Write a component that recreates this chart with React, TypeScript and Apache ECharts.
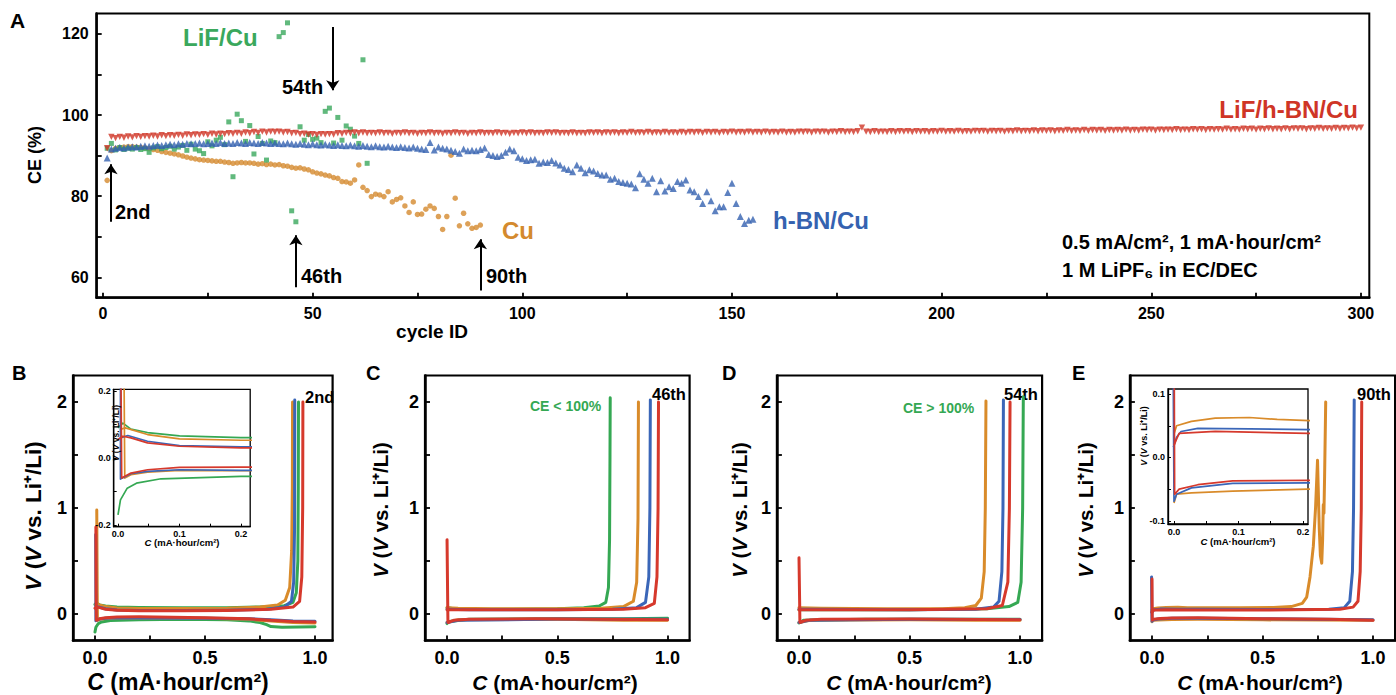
import React, { useEffect, useRef } from 'react';
import * as echarts from 'echarts';

const FONT = '"Liberation Sans", Arial, Helvetica, sans-serif';
const GREEN = '#35a853';
const ORANGE = '#d98b2a';
const BLUE = '#3a66b8';
const RED = '#d6392c';
const GREEN_PT = '#3aa85c';
const ORANGE_PT = '#d48a2e';
const BLUE_PT = '#3562b0';
const RED_PT = '#cf3526';

// ---------- Panel A : coulombic efficiency vs cycle ----------
const redCE = [
  91.8, 94.6, 94.3, 94.6, 94.4, 94.7, 94.5, 94.8, 94.6, 94.8,
  94.7, 94.9, 94.7, 95.0, 94.8, 95.0, 94.9, 95.1, 94.9, 95.2,
  95.0, 95.2, 95.1, 95.3, 95.1, 95.4, 95.2, 95.4, 95.3, 95.5,
  95.4, 95.6, 95.4, 95.7, 95.5, 95.8, 95.6, 95.9, 95.7, 95.9,
  95.8, 95.9, 95.7, 95.8, 95.5, 95.6, 95.3, 95.4, 95.2, 95.3,
  95.1, 95.3, 95.2, 95.3, 95.2, 95.5, 95.4, 95.6, 95.5, 95.7,
  95.5, 95.7, 95.5, 95.6, 95.5, 95.7, 95.5, 95.6, 95.4, 95.6,
  95.5, 95.7, 95.5, 95.6, 95.4, 95.6, 95.5, 95.7, 95.5, 95.6,
  95.4, 95.6, 95.5, 95.7, 95.5, 95.6, 95.4, 95.6, 95.5, 95.7,
  95.5, 95.6, 95.5, 95.7, 95.5, 95.6, 95.4, 95.6, 95.5, 95.7,
  95.5, 95.7, 95.5, 95.6, 95.5, 95.7, 95.6, 95.7, 95.5, 95.6,
  95.5, 95.7, 95.5, 95.6, 95.5, 95.7, 95.6, 95.7, 95.5, 95.7,
  95.6, 95.7, 95.5, 95.7, 95.6, 95.8, 95.6, 95.7, 95.6, 95.8,
  95.6, 95.7, 95.6, 95.8, 95.6, 95.7, 95.6, 95.8, 95.6, 95.8,
  95.7, 95.8, 95.6, 95.8, 95.7, 95.8, 95.6, 95.8, 95.7, 95.9,
  95.7, 95.8, 95.7, 95.9, 95.7, 95.8, 95.7, 95.9, 95.7, 95.8,
  95.7, 95.9, 95.7, 95.8, 95.7, 95.9, 95.8, 95.9, 95.7, 95.9,
  95.8, 95.9, 95.7, 95.9, 95.8, 96.0, 95.8, 95.9, 95.8, 96.0,
  96.9, 95.9, 95.8, 96.0, 95.8, 95.9, 95.8, 96.0, 95.8, 96.0,
  95.9, 96.0, 95.8, 96.0, 95.9, 96.0, 95.8, 96.0, 95.9, 96.1,
  95.9, 96.0, 95.9, 96.1, 95.9, 96.0, 95.9, 96.1, 96.0, 96.1,
  95.9, 96.1, 96.0, 96.1, 95.9, 96.1, 96.0, 96.2, 96.0, 96.1,
  96.0, 96.2, 96.0, 96.2, 96.1, 96.2, 96.0, 96.2, 96.1, 96.3,
  96.1, 96.2, 96.1, 96.3, 96.1, 96.3, 96.2, 96.3, 96.1, 96.3,
  96.2, 96.3, 96.2, 96.4, 96.2, 96.3, 96.2, 96.4, 96.3, 96.4,
  96.2, 96.4, 96.3, 96.4, 96.3, 96.5, 96.3, 96.4, 96.3, 96.5,
  96.4, 96.5, 96.3, 96.5, 96.4, 96.5, 96.4, 96.6, 96.4, 96.5,
  96.4, 96.6, 96.5, 96.6, 96.4, 96.6, 96.5, 96.7, 96.5, 96.6,
  96.5, 96.7, 96.5, 96.7, 96.6, 96.7, 96.5, 96.7, 96.6, 96.8,
  96.6, 96.7, 96.6, 96.8, 96.6, 96.8, 96.7, 96.9, 96.7, 96.9,
];

const blueCE = [
  89.4, 91.6, 91.8, 92.0, 91.9, 92.1, 92.2, 92.1, 92.3, 92.4,
  92.3, 92.5, 92.6, 92.5, 92.7, 92.8, 92.7, 92.9, 92.8, 93.0,
  92.9, 93.0, 93.1, 92.9, 93.0, 93.1, 93.0, 93.2, 93.0, 93.1,
  93.0, 93.2, 93.1, 93.0, 93.2, 93.1, 93.0, 93.2, 93.1, 93.0,
  93.1, 93.0, 92.9, 93.1, 92.9, 92.8, 93.0, 92.8, 92.7, 92.9,
  92.7, 92.6, 92.8, 92.6, 92.5, 92.7, 92.5, 92.4, 92.6, 92.4,
  92.3, 92.5, 92.3, 92.2, 92.4, 92.2, 92.1, 92.3, 92.1, 92.0,
  92.2, 92.0, 91.9, 92.1, 91.8, 91.6, 91.5, 93.2, 91.4, 92.1,
  91.8, 91.6, 91.3, 91.0, 90.6, 91.6, 91.2, 91.3, 91.2, 91.5,
  91.9, 90.3, 90.0, 89.8, 90.0, 90.8, 91.6, 91.2, 89.6, 89.2,
  88.8, 89.0, 89.1, 88.1, 88.4, 88.3, 88.8, 88.2, 87.7, 86.9,
  86.6, 86.0, 87.7, 86.9, 85.8, 86.5, 86.2, 85.6, 85.2, 85.2,
  84.2, 84.4, 83.6, 83.4, 83.2, 83.0, 82.1, 85.5, 84.2, 83.2,
  84.4, 81.1, 83.8, 81.3, 82.3, 81.9, 83.6, 83.2, 84.0, 81.5,
  81.1, 79.9, 78.2, 81.1, 78.9, 76.4, 77.4, 77.4, 80.9, 83.2,
  78.2, 75.0, 73.3, 74.1, 74.3,
];

const orangeCE = [
  83.9, 91.2, 91.8, 92.0, 92.1, 92.2, 92.2, 92.1, 92.0, 91.9,
  91.7, 91.5, 91.3, 91.0, 90.8, 90.6, 90.4, 90.2, 89.9, 89.6,
  89.4, 89.2, 89.0, 88.9, 88.8, 88.7, 88.6, 88.6, 88.4, 88.3,
  88.1, 88.2, 88.3, 88.2, 88.2, 88.1, 87.9, 88.0, 87.8, 87.9,
  87.7, 87.8, 87.5, 87.4, 87.1, 86.9, 87.0, 86.7, 86.5, 86.0,
  85.7, 85.5, 85.2, 85.0, 84.6, 84.4, 83.6, 83.5, 83.2, 84.0,
  87.7, 82.2, 81.4, 79.9, 80.5, 80.3, 79.9, 81.1, 78.6, 79.2,
  79.6, 77.6, 76.0, 78.6, 75.5, 75.6, 76.8, 77.6, 77.0, 75.0,
  71.8, 75.0, 90.1, 79.5, 72.7, 75.8, 73.2, 72.1, 72.3, 72.9,
];

const greenCE = [
  91.8, 93.0, 91.4, 92.0, 91.5, 91.8, 91.6, 92.0, 91.5, 91.7,
  90.8, 91.9, 92.2, 91.7, 92.0, 92.3, 91.6, 92.1, 92.5, 91.3,
  92.8, 91.6, 91.2, 90.5, 93.4, 92.4, 93.8, 94.5, 92.7, 98.3,
  84.8, 100.2, 98.6, 93.5, 97.4, 90.4, 94.7, 93.0, 88.9, 93.6,
  93.2, 119.3, 120.3, 122.7, 76.4, 73.7, 97.1, 93.8, 95.2, 94.0,
  94.3, 93.2, 100.9, 101.7, 93.1, 99.4, 93.8, 97.3, 96.5, 94.8,
  93.0, 113.6, 88.1,
];

const aXTicks = [0, 25, 50, 75, 100, 125, 150, 175, 200, 225, 250, 275, 300];
const aXLabels = [0, 50, 100, 150, 200, 250, 300];
const aYTicks = [60, 70, 80, 90, 100, 110, 120];
const aYLabels = [60, 80, 100, 120];

// arrows: [cycle, from CE, to CE]
const arrows = [
  [1.9, 73.7, 87.9],
  [46, 57.6, 70.4],
  [90, 56.8, 69.4],
  [54.8, 121.7, 106.1],
];

// ---------- Panels B-E : voltage profiles [C, V] ----------
// B : 2nd cycle
const bGreenPlate = [[0, -0.17], [0.004, -0.125], [0.015, -0.09], [0.03, -0.075], [0.07, -0.062], [0.2, -0.055], [0.4, -0.05], [0.6, -0.055], [0.7, -0.065], [0.75, -0.08], [0.78, -0.1], [0.8, -0.118], [0.85, -0.125], [1.0, -0.12]];
const bGreenStrip = [[0, 0.09], [0.008, 0.104], [0.021, 0.086], [0.048, 0.076], [0.1, 0.066], [0.2, 0.061], [0.4, 0.058], [0.6, 0.06], [0.75, 0.066], [0.86, 0.078], [0.9, 0.11], [0.915, 0.2], [0.922, 0.5], [0.924, 1.2], [0.925, 2.0]];
const bOrangePlate = [[0.008, 0.98], [0.01, 0.2], [0.011, -0.06], [0.021, -0.05], [0.048, -0.042], [0.1, -0.037], [0.2, -0.038], [0.5, -0.04], [0.7, -0.05], [0.8, -0.065], [0.9, -0.08], [1.0, -0.085]];
const bOrangeStrip = [[0.003, 0.085], [0.012, 0.09], [0.048, 0.07], [0.1, 0.057], [0.2, 0.053], [0.4, 0.052], [0.6, 0.055], [0.75, 0.065], [0.83, 0.085], [0.865, 0.13], [0.885, 0.25], [0.894, 0.6], [0.897, 1.2], [0.898, 2.0]];
const bBluePlate = [[0.003, 0.75], [0.004, 0.2], [0.004, -0.063], [0.021, -0.047], [0.048, -0.04], [0.1, -0.035], [0.2, -0.037], [0.5, -0.04], [0.7, -0.045], [0.8, -0.055], [0.9, -0.065], [1.0, -0.068]];
const bBlueStrip = [[0.004, 0.06], [0.016, 0.067], [0.048, 0.05], [0.1, 0.037], [0.2, 0.033], [0.4, 0.032], [0.6, 0.035], [0.78, 0.045], [0.86, 0.065], [0.893, 0.12], [0.903, 0.3], [0.907, 0.8], [0.908, 2.02]];
const bRedPlate = [[0.004, 0.82], [0.005, 0.2], [0.006, -0.06], [0.021, -0.045], [0.048, -0.035], [0.1, -0.028], [0.2, -0.027], [0.5, -0.035], [0.7, -0.045], [0.8, -0.06], [0.9, -0.07], [1.0, -0.075]];
const bRedStrip = [[0, 0.055], [0.008, 0.065], [0.021, 0.06], [0.048, 0.045], [0.1, 0.035], [0.2, 0.03], [0.4, 0.03], [0.6, 0.033], [0.8, 0.045], [0.9, 0.065], [0.93, 0.12], [0.94, 0.35], [0.944, 1.0], [0.945, 2.0]];

// C : 46th cycle
const cGreenPlate = [[0, -0.09], [0.01, -0.07], [0.1, -0.05], [0.5, -0.045], [0.8, -0.045], [1.0, -0.04]];
const cGreenStrip = [[0, 0.06], [0.02, 0.055], [0.1, 0.045], [0.3, 0.045], [0.5, 0.05], [0.62, 0.06], [0.69, 0.075], [0.72, 0.11], [0.732, 0.25], [0.737, 0.7], [0.739, 1.5], [0.74, 2.04]];
const cOrangePlate = [[0, -0.08], [0.05, -0.055], [0.5, -0.05], [0.8, -0.058], [1.0, -0.06]];
const cOrangeStrip = [[0, 0.06], [0.05, 0.055], [0.2, 0.05], [0.5, 0.05], [0.7, 0.055], [0.8, 0.07], [0.845, 0.12], [0.86, 0.3], [0.866, 0.9], [0.868, 2.0]];
const cBluePlate = [[0, -0.08], [0.05, -0.06], [0.5, -0.048], [1.0, -0.05]];
const cBlueStrip = [[0, 0.045], [0.1, 0.04], [0.5, 0.04], [0.75, 0.045], [0.86, 0.06], [0.9, 0.11], [0.915, 0.35], [0.92, 1.0], [0.922, 2.02]];
const cRedPlate = [[0, 0.7], [0.003, 0.1], [0.004, -0.08], [0.03, -0.06], [0.1, -0.05], [0.4, -0.045], [0.7, -0.05], [1.0, -0.055]];
const cRedStrip = [[0, 0.04], [0.1, 0.04], [0.5, 0.04], [0.8, 0.045], [0.9, 0.06], [0.94, 0.1], [0.952, 0.35], [0.957, 1.0], [0.959, 2.0]];

// D : 54th cycle
const dGreenPlate = [[0, -0.085], [0.02, -0.06], [0.3, -0.05], [0.7, -0.05], [1.0, -0.05]];
const dGreenStrip = [[0, 0.04], [0.5, 0.04], [0.85, 0.05], [0.95, 0.07], [0.99, 0.11], [1.005, 0.3], [1.012, 1.0], [1.015, 2.05]];
const dOrangePlate = [[0, -0.08], [0.05, -0.06], [0.5, -0.055], [0.8, -0.06], [1.0, -0.06]];
const dOrangeStrip = [[0, 0.06], [0.1, 0.055], [0.4, 0.05], [0.65, 0.05], [0.75, 0.06], [0.8, 0.08], [0.825, 0.15], [0.838, 0.4], [0.843, 1.0], [0.846, 2.01]];
const dBluePlate = [[0, -0.08], [0.05, -0.058], [0.5, -0.05], [1.0, -0.052]];
const dBlueStrip = [[0, 0.045], [0.5, 0.04], [0.8, 0.045], [0.88, 0.065], [0.905, 0.12], [0.918, 0.4], [0.923, 1.0], [0.925, 2.02]];
const dRedPlate = [[0, 0.53], [0.003, 0.1], [0.004, -0.08], [0.03, -0.06], [0.1, -0.05], [0.5, -0.048], [1.0, -0.055]];
const dRedStrip = [[0, 0.04], [0.5, 0.04], [0.85, 0.05], [0.92, 0.08], [0.945, 0.3], [0.952, 1.0], [0.955, 2.0]];

// E : 90th cycle
const eOrangePlate = [[0, -0.072], [0.004, -0.058], [0.027, -0.056], [0.091, -0.053], [0.208, -0.05], [0.5, -0.055], [1.0, -0.06]];
const eOrangeStrip = [[0, 0.037], [0.004, 0.05], [0.027, 0.057], [0.064, 0.062], [0.117, 0.063], [0.16, 0.06], [0.21, 0.058], [0.4, 0.06], [0.55, 0.062], [0.63, 0.07], [0.68, 0.1], [0.7, 0.16], [0.715, 0.35], [0.73, 0.64], [0.74, 1.0], [0.746, 1.3], [0.749, 1.45], [0.752, 1.2], [0.757, 0.8], [0.762, 0.55], [0.768, 0.48], [0.772, 0.7], [0.775, 1.03], [0.778, 0.95], [0.781, 1.3], [0.786, 2.0]];
const eBluePlate = [[-0.002, 0.35], [-0.001, 0.1], [0, -0.069], [0.004, -0.058], [0.027, -0.048], [0.091, -0.041], [0.208, -0.04], [0.5, -0.045], [1.0, -0.055]];
const eBlueStrip = [[-0.001, 0.016], [0.004, 0.032], [0.011, 0.041], [0.037, 0.046], [0.117, 0.045], [0.208, 0.044], [0.5, 0.042], [0.8, 0.045], [0.87, 0.06], [0.895, 0.12], [0.907, 0.4], [0.912, 1.0], [0.915, 2.02]];
const eRedPlate = [[0, 0.33], [0.0005, 0.1], [0.001, -0.058], [0.008, -0.05], [0.037, -0.043], [0.091, -0.037], [0.208, -0.036], [0.5, -0.045], [0.8, -0.05], [1.0, -0.06]];
const eRedStrip = [[0, 0.019], [0.004, 0.029], [0.008, 0.038], [0.064, 0.041], [0.208, 0.038], [0.5, 0.038], [0.85, 0.045], [0.91, 0.065], [0.932, 0.12], [0.942, 0.4], [0.947, 1.0], [0.949, 2.0]];

const vcTicksX = [0, 0.25, 0.5, 0.75, 1.0];
const vcLabelsX = [0, 0.5, 1.0];
const vcTicksY = [0, 0.5, 1, 1.5, 2];
const vcLabelsY = [0, 1, 2];
const insetTicksX = [0, 0.05, 0.1, 0.15, 0.2];
const insetLabelsX = [0, 0.1, 0.2];
const insetBTicksY = [-0.2, -0.1, 0, 0.1, 0.2];
const insetBLabelsY = [-0.2, 0, 0.2];
const insetETicksY = [-0.1, -0.05, 0, 0.05, 0.1];
const insetELabelsY = [-0.1, 0, 0.1];

function axis(gridIndex: number, min: number, max: number, ticks: number[], labels: number[], fmt: (v: number) => string, o: any) {
  return {
    type: 'value',
    gridIndex,
    min,
    max,
    scale: true,
    z: o.z || 0,
    axisLine: { show: true, onZero: false, lineStyle: { color: '#000', width: o.lineW } },
    axisTick: { show: true, inside: true, length: o.tickLen, customValues: ticks, lineStyle: { color: '#000', width: o.tickW } },
    axisLabel: {
      show: true,
      customValues: labels,
      formatter: (v: number) => fmt(v),
      color: '#000',
      fontFamily: FONT,
      fontWeight: 'bold',
      fontSize: o.fs,
      margin: o.margin,
    },
    splitLine: { show: false },
  };
}

function txt(text: string, x: number, y: number, size: number, color = '#000', align = 'left', weight = 'bold', rot = 0, rich?: any) {
  const el: any = {
    type: 'text',
    x,
    y,
    rotation: rot,
    silent: true,
    style: {
      text,
      fill: color,
      fontFamily: FONT,
      fontSize: size,
      fontWeight: weight,
      align,
      textAlign: align,
      verticalAlign: 'middle',
      textVerticalAlign: 'middle',
    },
  };
  if (rich) el.style.rich = rich;
  return el;
}

const App: React.FC = () => {
  const ref = useRef<HTMLDivElement>(null);

  useEffect(() => {
    if (!ref.current) return;
    const chart = echarts.init(ref.current, undefined, { renderer: 'svg' });

    const vcTop = 375.5;
    const vcH = 265;
    const grids: any[] = [
      { left: 96.7, top: 13.5, width: 1272.6, height: 284.2 }, // A
      { left: 73, top: vcTop, width: 259.6, height: vcH }, // B
      { left: 425, top: vcTop, width: 264.6, height: vcH }, // C
      { left: 776.9, top: vcTop, width: 265.2, height: vcH }, // D
      { left: 1129.9, top: vcTop, width: 265.2, height: vcH }, // E
      { left: 113.7, top: 389.3, width: 136.5, height: 137.4 }, // B inset
      { left: 1168, top: 389, width: 140, height: 135 }, // E inset
    ].map((g, i) => ({
      ...g,
      containLabel: false,
      show: true,
      borderColor: '#000',
      borderWidth: i === 0 ? 2 : i >= 5 ? 1.3 : 2.2,
      backgroundColor: i >= 5 ? '#fff' : 'transparent',
      z: i >= 5 ? 5 : 0,
    }));

    const mainO = { lineW: 2.5, tickLen: 5, tickW: 1.8, fs: 18, margin: 8 };
    const aO = { lineW: 2.5, tickLen: 5, tickW: 1.8, fs: 16, margin: 8 };
    const insO = { lineW: 1.3, tickLen: 3, tickW: 1, fs: 9, margin: 3, z: 10 };
    const f1 = (v: number) => v.toFixed(1);
    const f0 = (v: number) => String(Math.round(v));

    const xAxis: any[] = [
      axis(0, -1.5, 302, aXTicks, aXLabels, f0, aO),
      axis(1, -0.1, 1.08, vcTicksX, vcLabelsX, f1, mainO),
      axis(2, -0.1, 1.1, vcTicksX, vcLabelsX, f1, mainO),
      axis(3, -0.1, 1.1, vcTicksX, vcLabelsX, f1, mainO),
      axis(4, -0.1, 1.1, vcTicksX, vcLabelsX, f1, mainO),
      axis(5, -0.007, 0.215, insetTicksX, insetLabelsX, f1, insO),
      axis(6, -0.0093, 0.2078, insetTicksX, insetLabelsX, f1, insO),
    ];
    const yAxis: any[] = [
      axis(0, 55, 125, aYTicks, aYLabels, f0, aO),
      axis(1, -0.25, 2.25, vcTicksY, vcLabelsY, f0, { ...mainO, margin: 6 }),
      axis(2, -0.25, 2.25, vcTicksY, vcLabelsY, f0, { ...mainO, margin: 6 }),
      axis(3, -0.25, 2.25, vcTicksY, vcLabelsY, f0, { ...mainO, margin: 6 }),
      axis(4, -0.25, 2.25, vcTicksY, vcLabelsY, f0, { ...mainO, margin: 6 }),
      axis(5, -0.205, 0.205, insetBTicksY, insetBLabelsY, f1, insO),
      axis(6, -0.105, 0.108, insetETicksY, insetELabelsY, f1, insO),
    ];

    const series: any[] = [];
    const toPts = (vals: number[]) => vals.map((v, i) => [i + 1, v]);
    series.push({
      type: 'scatter', xAxisIndex: 0, yAxisIndex: 0, data: toPts(orangeCE),
      symbol: 'circle', symbolSize: 5.5, itemStyle: { color: ORANGE_PT }, z: 2,
    });
    series.push({
      type: 'scatter', xAxisIndex: 0, yAxisIndex: 0, data: toPts(greenCE),
      symbol: 'rect', symbolSize: 5, itemStyle: { color: GREEN_PT }, z: 3,
      markLine: {
        silent: true,
        symbol: ['none', 'arrow'],
        symbolSize: 10,
        label: { show: false },
        lineStyle: { color: '#000', width: 2, type: 'solid' },
        data: arrows.map(([c, a, b]) => [{ coord: [c, a] }, { coord: [c, b] }]),
      },
    });
    series.push({
      type: 'scatter', xAxisIndex: 0, yAxisIndex: 0, data: toPts(blueCE),
      symbol: 'triangle', symbolSize: 7, itemStyle: { color: BLUE_PT }, z: 4,
    });
    series.push({
      type: 'scatter', xAxisIndex: 0, yAxisIndex: 0, data: toPts(redCE),
      symbol: 'triangle', symbolRotate: 180, symbolSize: 6.4, itemStyle: { color: RED_PT }, z: 5,
    });

    const panels: [number, number | null, [number[][], string][]][] = [
      [1, 5, [[bGreenPlate, GREEN], [bGreenStrip, GREEN], [bOrangePlate, ORANGE], [bOrangeStrip, ORANGE], [bBluePlate, BLUE], [bBlueStrip, BLUE], [bRedPlate, RED], [bRedStrip, RED]]],
      [2, null, [[cGreenPlate, GREEN], [cGreenStrip, GREEN], [cOrangePlate, ORANGE], [cOrangeStrip, ORANGE], [cBluePlate, BLUE], [cBlueStrip, BLUE], [cRedPlate, RED], [cRedStrip, RED]]],
      [3, null, [[dGreenPlate, GREEN], [dGreenStrip, GREEN], [dOrangePlate, ORANGE], [dOrangeStrip, ORANGE], [dBluePlate, BLUE], [dBlueStrip, BLUE], [dRedPlate, RED], [dRedStrip, RED]]],
      [4, 6, [[eOrangePlate, ORANGE], [eOrangeStrip, ORANGE], [eBluePlate, BLUE], [eBlueStrip, BLUE], [eRedPlate, RED], [eRedStrip, RED]]],
    ];
    panels.forEach(([g, ins, curves]) => {
      curves.forEach(([data, color]) => {
        series.push({
          type: 'line', xAxisIndex: g, yAxisIndex: g, data, showSymbol: false, symbol: 'none',
          lineStyle: { color, width: 3, join: 'round', cap: 'round' }, z: 2, silent: true,
        });
        if (ins !== null) {
          series.push({
            type: 'line', xAxisIndex: ins, yAxisIndex: ins, data, showSymbol: false, symbol: 'none',
            lineStyle: { color, width: 1.7, join: 'round' }, z: 6, silent: true, clip: true,
          });
        }
      });
    });

    const italic = (size: number) => ({ i: { fontStyle: 'italic', fontWeight: 'bold', fontSize: size, fontFamily: FONT, fill: '#000' } });
    const vLabel = '{i|V} ({i|V} vs. Li\u207A/Li)';
    const cLabel = '{i|C} (mA\u00B7hour/cm\u00B2)';

    const graphic: any[] = [
      txt('A', 10, 20, 21),
      txt('CE (%)', 35, 155, 18, '#000', 'center', 'bold', Math.PI / 2),
      txt('cycle ID', 432, 331, 19, '#000', 'center'),
      txt('LiF/Cu', 183, 37, 24, GREEN_PT),
      txt('54th', 282, 87, 20),
      txt('2nd', 115, 212, 20),
      txt('46th', 301, 276, 20),
      txt('90th', 486, 276, 20),
      txt('Cu', 502, 230, 24, ORANGE_PT),
      txt('h-BN/Cu', 773, 220, 24, BLUE_PT),
      txt('LiF/h-BN/Cu', 1358, 109, 24, RED_PT, 'right'),
      txt('0.5 mA/cm\u00B2, 1 mA\u00B7hour/cm\u00B2', 1062, 242, 20),
      txt('1 M LiPF\u2086 in EC/DEC', 1062, 270, 20),

      txt('B', 12, 373, 20),
      txt('C', 366, 373, 20),
      txt('D', 722, 373, 20),
      txt('E', 1072, 373, 20),
      txt('2nd', 305, 397, 16.5),
      txt('46th', 652, 394, 16.5),
      txt('54th', 1004, 394, 16.5),
      txt('90th', 1357, 394, 16.5),
      txt('CE < 100%', 530, 406, 14, GREEN),
      txt('CE > 100%', 903, 408, 14, GREEN),
      txt(vLabel, 33, 516, 22.5, '#000', 'center', 'bold', Math.PI / 2, italic(22.5)),
      txt(vLabel, 380, 510, 20.5, '#000', 'center', 'bold', Math.PI / 2, italic(20.5)),
      txt(vLabel, 739, 510, 20.5, '#000', 'center', 'bold', Math.PI / 2, italic(20.5)),
      txt(vLabel, 1085, 510, 20.5, '#000', 'center', 'bold', Math.PI / 2, italic(20.5)),
      txt(cLabel, 178, 682, 23, '#000', 'center', 'bold', 0, italic(23)),
      txt(cLabel, 555, 682, 21, '#000', 'center', 'bold', 0, italic(21)),
      txt(cLabel, 909, 682, 21, '#000', 'center', 'bold', 0, italic(21)),
      txt(cLabel, 1260, 682, 21, '#000', 'center', 'bold', 0, italic(21)),
      // insets
      { ...txt(vLabel, 116, 433, 8.5, '#000', 'center', 'bold', Math.PI / 2, italic(8.5)), z: 20 },
      { ...txt(cLabel, 182, 542, 9.5, '#000', 'center', 'bold', 0, italic(9.5)), z: 20 },
      { ...txt(vLabel, 1144, 436, 9, '#000', 'center', 'bold', Math.PI / 2, italic(9)), z: 20 },
      { ...txt(cLabel, 1238, 541, 9.5, '#000', 'center', 'bold', 0, italic(9.5)), z: 20 },
    ];

    chart.setOption({
      animation: false,
      backgroundColor: '#fff',
      grid: grids,
      xAxis,
      yAxis,
      series,
      graphic,
    });

    return () => chart.dispose();
  }, []);

  return (
    <div
      ref={ref}
      style={{ position: 'absolute', left: 0, top: 0, width: 1396, height: 695, background: '#fff' }}
    />
  );
};

export default App;
